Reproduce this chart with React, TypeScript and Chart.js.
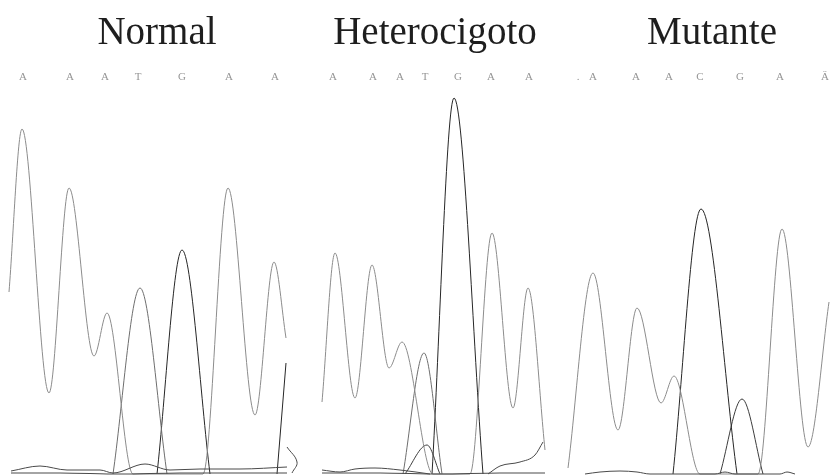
import React, { useEffect, useRef } from 'react';
import { Chart, registerables } from 'chart.js';

Chart.register(...registerables);

// Panel titles and their centre on the scan axis
const panelTitles = ['Normal', 'Heterocigoto', 'Mutante'];
const titleCenters = [157, 435, 712];

// Base calls shown above the traces, with their scan positions
const baseCalls1 = ['A', 'A', 'A', 'T', 'G', 'A', 'A'];
const basePos1 = [23, 70, 105, 138, 182, 229, 275];
const baseCalls2 = ['A', 'A', 'A', 'T', 'G', 'A', 'A'];
const basePos2 = [333, 373, 400, 425, 458, 491, 529];
const baseCalls3 = ['.', 'A', 'A', 'A', 'C', 'G', 'A', 'Ä'];
const basePos3 = [578, 593, 636, 669, 700, 740, 780, 825];

// Trace extrema: [scan position, signal amplitude]
// Panel 1 – Normal
const normalA: number[][] = [[9, 182], [22, 345], [49, 81], [69, 286], [94, 118], [107, 161], [133, 0], [203, 0], [228, 286], [255, 59], [274, 212], [286, 136]];
const normalT: number[][] = [[113, 0], [140, 186], [167, 0]];
const normalG: number[][] = [[157, 0], [182, 224], [210, 0]];
const normalGNext: number[][] = [[277, 0], [286, 111]];
const normalNoise: number[][] = [[11, 3], [40, 8], [67, 4], [100, 4], [113, 1], [145, 10], [170, 4], [200, 5], [240, 5], [287, 7]];
const normalNoise2: number[][] = [[11, 1], [60, 1], [120, 0], [180, 1], [240, 1], [287, 1]];
const normalTail: number[][] = [[287, 27], [297, 12], [292, 1]];

// Panel 2 – Heterocigoto
const hetA: number[][] = [[322, 72], [335, 221], [355, 76], [372, 209], [389, 106], [402, 132], [433, 0], [470, 0], [492, 241], [513, 66], [528, 186], [545, 24]];
const hetT: number[][] = [[403, 0], [424, 121], [442, 0]];
const hetC: number[][] = [[405, 0], [427, 29], [440, 0]];
const hetG: number[][] = [[432, 0], [454, 376], [483, 0]];
const hetRise: number[][] = [[488, 0], [500, 8], [520, 12], [535, 19], [543, 32]];
const hetNoise: number[][] = [[322, 4], [340, 2], [355, 5], [375, 6], [400, 4], [430, 0]];
const hetNoise2: number[][] = [[322, 1], [380, 1], [440, 0], [500, 1], [545, 1]];

// Panel 3 – Mutante
const mutA: number[][] = [[568, 6], [593, 201], [618, 44], [637, 166], [661, 71], [674, 98], [700, 0], [758, 0], [782, 245], [808, 27], [829, 172]];
const mutG: number[][] = [[673, 0], [701, 265], [737, 0]];
const mutC: number[][] = [[720, 0], [742, 75], [763, 0]];
const mutNoise: number[][] = [[585, 0], [600, 2], [620, 3], [637, 2], [650, 0], [715, 0], [725, 2], [735, 0], [780, 0], [787, 2], [795, 0]];

const colorA = '#8c8c8c';
const colorT = '#6e6e6e';
const colorG = '#262626';
const colorC = '#3c3c3c';
const colorNoise = '#4a4a4a';

const toPts = (arr: number[][]) => arr.map(([x, y]) => ({ x, y }));

const trace = (arr: number[][], color: string, width = 1, mode: 'monotone' | 'default' = 'monotone') => ({
  data: toPts(arr),
  borderColor: color,
  borderWidth: width,
  pointRadius: 0,
  fill: false,
  cubicInterpolationMode: mode,
  tension: mode === 'default' ? 0.4 : 0,
});

const textPlugin = {
  id: 'chromatogramText',
  afterDraw(chart: any) {
    const { ctx, scales } = chart;
    const xs = scales.x;
    const ys = scales.y;
    ctx.save();
    ctx.textAlign = 'center';
    ctx.textBaseline = 'alphabetic';
    ctx.fillStyle = '#1e1e1e';
    ctx.font = '39px "Liberation Serif", "Times New Roman", serif';
    panelTitles.forEach((t, i) => {
      ctx.fillText(t, xs.getPixelForValue(titleCenters[i]), ys.getPixelForValue(430));
    });
    ctx.fillStyle = '#959595';
    ctx.font = '11px "Liberation Serif", serif';
    ctx.textBaseline = 'middle';
    const rows: [string[], number[]][] = [[baseCalls1, basePos1], [baseCalls2, basePos2], [baseCalls3, basePos3]];
    rows.forEach(([calls, pos]) => {
      calls.forEach((c, i) => {
        ctx.fillText(c, xs.getPixelForValue(pos[i]), ys.getPixelForValue(397));
      });
    });
    ctx.restore();
  },
};

export default function App() {
  const ref = useRef<HTMLCanvasElement | null>(null);
  useEffect(() => {
    if (!ref.current) return;
    const chart = new Chart(ref.current, {
      type: 'line',
      data: {
        datasets: [
          trace(normalNoise2, colorNoise, 1.2),
          trace(normalNoise, colorNoise),
          trace(normalA, colorA),
          trace(normalT, colorT),
          trace(normalG, colorG),
          trace(normalGNext, colorG),
          trace(normalTail, colorNoise, 1, 'default'),
          trace(hetNoise2, colorNoise, 1.2),
          trace(hetNoise, colorNoise),
          trace(hetA, colorA),
          trace(hetT, colorT),
          trace(hetC, colorC),
          trace(hetG, colorG),
          trace(hetRise, colorNoise),
          trace(mutNoise, colorNoise),
          trace(mutA, colorA),
          trace(mutG, colorG),
          trace(mutC, colorC),
        ] as any,
      },
      options: {
        animation: false,
        responsive: false,
        maintainAspectRatio: false,
        layout: { padding: 0 },
        plugins: { legend: { display: false }, tooltip: { enabled: false }, title: { display: false } },
        scales: {
          x: { type: 'linear', min: 0, max: 830, display: false },
          y: { type: 'linear', min: -2, max: 474, display: false },
        },
        elements: { line: { capBezierPoints: true } },
      },
      plugins: [textPlugin],
    });
    return () => chart.destroy();
  }, []);
  return (
    <div style={{ position: 'fixed', left: 0, top: 0, width: 830, height: 476, background: '#fff' }}>
      <canvas ref={ref} width={830} height={476} style={{ width: 830, height: 476 }} />
    </div>
  );
}
